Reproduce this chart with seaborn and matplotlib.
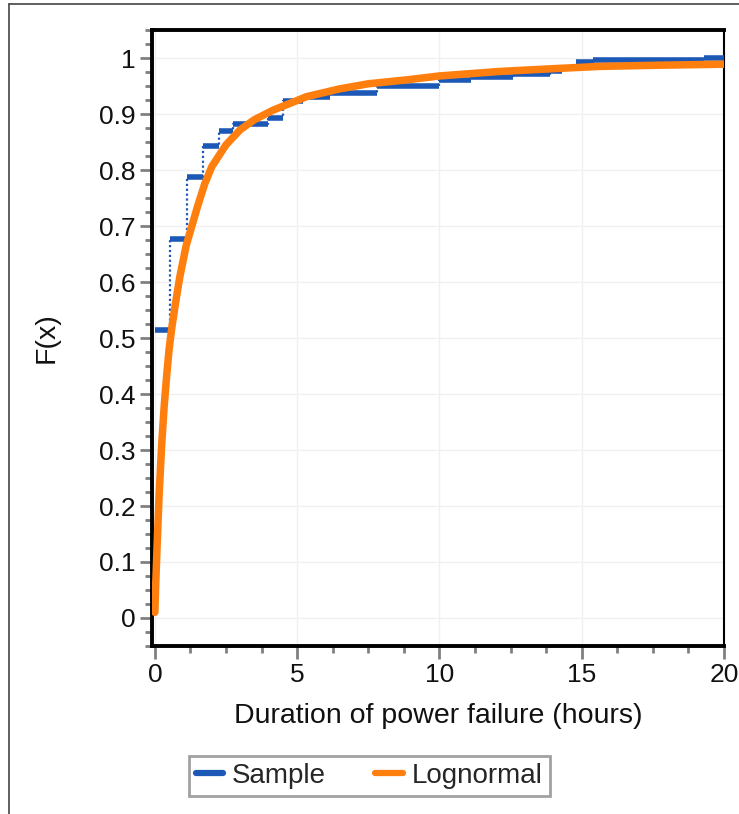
import matplotlib
matplotlib.use("Agg")
import matplotlib.pyplot as plt
from matplotlib.lines import Line2D
from matplotlib.ticker import MultipleLocator
import seaborn as sns
import pandas as pd

# Sample ECDF steps: each step value holds from step_x[i] to step_x[i+1]
step_x = [0.0, 0.53, 1.12, 1.69, 2.25, 2.74, 3.97, 4.5, 5.2, 6.15, 7.8, 10.0, 11.1, 12.6, 13.9, 14.3, 14.8, 15.4, 19.3, 20.0]
step_f = [0.515, 0.676, 0.788, 0.843, 0.870, 0.882, 0.893, 0.923, 0.930, 0.937, 0.950, 0.960, 0.966, 0.971, 0.977, 0.982, 0.993, 0.996, 1.0, 1.0]

# Fitted lognormal CDF
logn_x = [0.0, 0.03, 0.08, 0.15, 0.24, 0.33, 0.41, 0.5, 0.6, 0.75, 0.88, 1.1, 1.3, 1.5, 1.75, 2.0, 2.5, 3.0, 3.5, 4.16, 5.33, 6.5, 7.5, 8.85, 10.0, 12.1, 14.0, 15.6, 17.5, 20.0]
logn_f = [0.01, 0.06, 0.13, 0.22, 0.31, 0.38, 0.43, 0.48, 0.52, 0.57, 0.61, 0.665, 0.70, 0.735, 0.775, 0.806, 0.845, 0.872, 0.89, 0.907, 0.931, 0.945, 0.954, 0.961, 0.968, 0.976, 0.981, 0.985, 0.987, 0.989]

x_ticks = [0, 5, 10, 15, 20]
y_ticks = [0, 0.1, 0.2, 0.3, 0.4, 0.5, 0.6, 0.7, 0.8, 0.9, 1]
y_labels = ["0", "0.1", "0.2", "0.3", "0.4", "0.5", "0.6", "0.7", "0.8", "0.9", "1"]

BLUE = "#1c58b5"
ORANGE = "#ff7f0e"

sns.set_theme(style="white")
plt.rcParams["font.family"] = ["Liberation Sans", "DejaVu Sans"]

fig = plt.figure(figsize=(7.39, 8.14), dpi=100)
ax = fig.add_axes([0.2057, 0.2064, 0.774, 0.7567])

ax.set_xticks(x_ticks)
ax.set_yticks(y_ticks)
ax.grid(True, which="major", color="#f0f0f0", linewidth=1.0)

# sample: dotted risers + thick horizontal steps
df_s = pd.DataFrame({"x": step_x, "F": step_f})
sns.lineplot(data=df_s, x="x", y="F", drawstyle="steps-post", color=BLUE,
             linestyle=(0, (1, 1.2)), linewidth=1.6, ax=ax, legend=False, zorder=3)
ax.hlines(step_f[:-1], step_x[:-1], step_x[1:], colors=BLUE, linewidth=4.0, zorder=4)

# lognormal
df_l = pd.DataFrame({"x": logn_x, "F": logn_f})
sns.lineplot(data=df_l, x="x", y="F", color=ORANGE, linewidth=5.4, ax=ax,
             legend=False, zorder=5, solid_capstyle="round", solid_joinstyle="round")

ax.set_xlim(-0.1, 20)
ax.set_ylim(-0.05, 1.05)
ax.xaxis.set_minor_locator(MultipleLocator(1.25))
ax.yaxis.set_minor_locator(MultipleLocator(0.025))
ax.set_yticklabels(y_labels)
ax.tick_params(axis="both", which="major", direction="out", length=9, width=2,
               color="#808080", labelsize=19, labelcolor="#111111", pad=3,
               left=True, bottom=True)
ax.tick_params(axis="both", which="minor", direction="out", length=5, width=2,
               color="#808080", left=True, bottom=True)

for side in ["left", "bottom", "top"]:
    ax.spines[side].set_visible(True)
    ax.spines[side].set_color("black")
    ax.spines[side].set_linewidth(2.8)
ax.spines["right"].set_visible(True)
ax.spines["right"].set_color("black")
ax.spines["right"].set_linewidth(1.5)
ax.spines["right"].set_linestyle((0, (1, 1)))

ax.set_xlabel("Duration of power failure (hours)", fontsize=20.5, color="#111111", labelpad=12)
ax.set_ylabel("F(x)", fontsize=20.5, color="#111111", labelpad=28)

handles = [Line2D([0], [0], color=BLUE, linewidth=4.5),
           Line2D([0], [0], color=ORANGE, linewidth=4.5)]
leg = fig.legend(handles, ["Sample", "Lognormal"], loc="center",
                 bbox_to_anchor=(0.4995, 0.0467), ncol=2, fontsize=20,
                 frameon=True, fancybox=False, handlelength=1.0,
                 handletextpad=0.32, columnspacing=1.76, borderpad=0.25,
                 borderaxespad=0)
leg.get_frame().set_edgecolor("#8a8a8a")
leg.get_frame().set_linewidth(2)

# outer frame lines
fig.add_artist(Line2D([9/739, 9/739], [0, 1 - 4/814], color="#444444", linewidth=1.2))
fig.add_artist(Line2D([9/739, 1], [1 - 4/814, 1 - 4/814], color="#444444", linewidth=1.2))

fig.savefig("out.png", dpi=100)
